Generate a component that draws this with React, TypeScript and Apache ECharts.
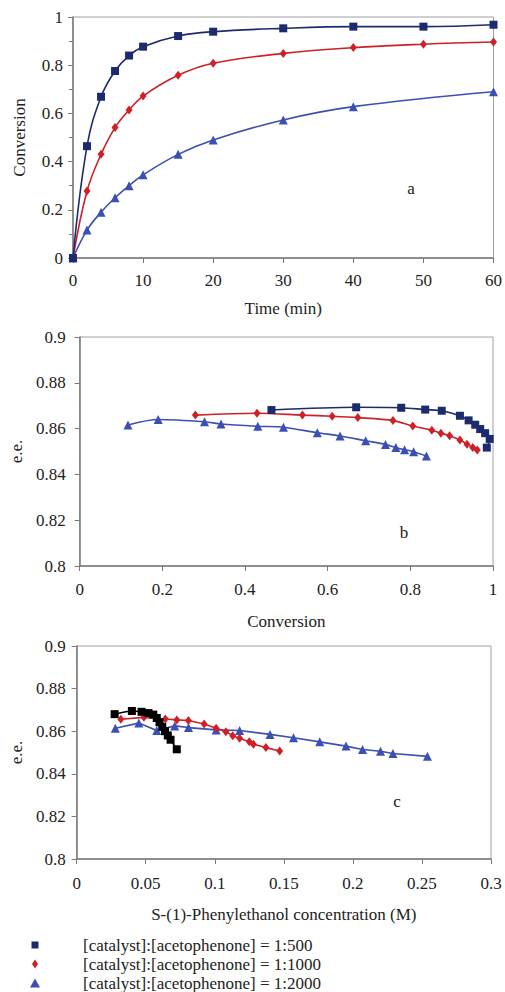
import React, { useEffect, useRef } from "react";
import * as echarts from "echarts";

// Panel a: conversion vs time
const timeMin = [0, 2, 4, 6, 8, 10, 15, 20, 30, 40, 50, 60];
const conv500 = [0, 0.464, 0.669, 0.776, 0.84, 0.877, 0.921, 0.939, 0.953, 0.96, 0.96, 0.968];
const conv1000 = [0, 0.278, 0.43, 0.541, 0.614, 0.672, 0.758, 0.808, 0.849, 0.873, 0.887, 0.896];
const time2000 = [0, 2, 4, 6, 8, 10, 15, 20, 30, 40, 60];
const conv2000 = [0, 0.116, 0.19, 0.25, 0.3, 0.345, 0.43, 0.49, 0.573, 0.628, 0.69];

// Panel b: e.e. vs conversion
const bConv500 = [0.464, 0.669, 0.778, 0.836, 0.876, 0.92, 0.941, 0.957, 0.969, 0.981, 0.992, 0.985];
const bEe500 = [0.8681, 0.8693, 0.8691, 0.8683, 0.8678, 0.8656, 0.8636, 0.8617, 0.8598, 0.858, 0.8555, 0.8517];
const bConv1000 = [0.28, 0.429, 0.539, 0.611, 0.673, 0.758, 0.806, 0.852, 0.874, 0.895, 0.92, 0.937, 0.951, 0.962];
const bEe1000 = [0.8659, 0.8667, 0.8659, 0.8654, 0.8648, 0.8635, 0.8611, 0.8593, 0.858, 0.8569, 0.855, 0.8532, 0.8517, 0.8507];
const bConv2000 = [0.117, 0.19, 0.302, 0.342, 0.431, 0.493, 0.575, 0.63, 0.692, 0.74, 0.765, 0.786, 0.808, 0.839];
const bEe2000 = [0.8616, 0.864, 0.863, 0.862, 0.861, 0.8606, 0.8582, 0.8568, 0.8547, 0.8531, 0.8517, 0.8508, 0.8499, 0.848];

// Panel c: e.e. vs S-(1)-phenylethanol concentration
const cConc500 = [0.0275, 0.04, 0.047, 0.052, 0.0555, 0.058, 0.06, 0.062, 0.064, 0.066, 0.068, 0.0725];
const cEe500 = [0.868, 0.8695, 0.8691, 0.8685, 0.8678, 0.8662, 0.8642, 0.862, 0.86, 0.858, 0.856, 0.8515];
const cConc1000 = [0.032, 0.0487, 0.0642, 0.0725, 0.0809, 0.0923, 0.101, 0.108, 0.113, 0.118, 0.125, 0.128, 0.137, 0.147];
const cEe1000 = [0.8656, 0.8665, 0.8657, 0.8653, 0.865, 0.8634, 0.8614, 0.8598, 0.8579, 0.8567, 0.8551, 0.8539, 0.8523, 0.8507];
const cConc2000 = [0.028, 0.045, 0.058, 0.071, 0.081, 0.101, 0.118, 0.14, 0.157, 0.176, 0.195, 0.207, 0.22, 0.229, 0.254];
const cEe2000 = [0.8614, 0.8638, 0.8603, 0.8625, 0.8617, 0.8606, 0.8603, 0.8585, 0.8569, 0.855, 0.853, 0.8514, 0.8506, 0.8495, 0.8482];

const seriesNames = [
  "[catalyst]:[acetophenone] = 1:500",
  "[catalyst]:[acetophenone] = 1:1000",
  "[catalyst]:[acetophenone] = 1:2000",
];

const NAVY = "#1c2b6e";
const RED = "#cf2027";
const BLUE = "#3c4fb4";
const BLACK = "#000000";
const FONT = "'Liberation Serif', 'Times New Roman', serif";
const TXT = "#222";
const AXIS = "#7a7a7a";

const zip = (xs: number[], ys: number[]) => xs.map((x, i) => [x, ys[i]]);

export default function App() {
  const ref = useRef<HTMLDivElement>(null);
  useEffect(() => {
    if (!ref.current) return;
    const chart = echarts.init(ref.current, null, { renderer: "svg" });

    const axisCommon = {
      axisLine: { show: true, lineStyle: { color: AXIS, width: 1.5 } },
      axisTick: { show: true, inside: false, length: 5, lineStyle: { color: AXIS } },
      splitLine: { show: false },
      axisLabel: { color: TXT, fontFamily: FONT, fontSize: 17 },
      nameTextStyle: { color: TXT, fontFamily: FONT, fontSize: 17 },
    };

    const mk = (
      name: string,
      data: number[][],
      color: string,
      symbol: string,
      size: number | number[],
      xi: number,
      smooth: number
    ) => ({
      type: "line",
      name,
      data,
      xAxisIndex: xi,
      yAxisIndex: xi,
      symbol,
      symbolSize: size,
      smooth,
      showSymbol: true,
      lineStyle: { color, width: 1.6 },
      itemStyle: { color },
      emphasis: { disabled: true },
      z: 3,
    });

    const option: any = {
      animation: false,
      backgroundColor: "#ffffff",
      grid: [
        { left: 73, top: 17, width: 426, height: 241, show: true, borderColor: "#a0a0a0", borderWidth: 1 },
        { left: 78, top: 337, width: 415, height: 229, show: true, borderColor: "#a0a0a0", borderWidth: 1 },
        { left: 72, top: 646, width: 419, height: 213, show: true, borderColor: "#a0a0a0", borderWidth: 1 },
      ],
      xAxis: [
        {
          ...axisCommon,
          type: "value",
          gridIndex: 0,
          min: 0,
          max: 60,
          interval: 10,
          name: "Time (min)",
          nameLocation: "middle",
          nameGap: 42,
          axisLabel: { ...axisCommon.axisLabel, margin: 14 },
        },
        {
          ...axisCommon,
          type: "value",
          gridIndex: 1,
          min: 0,
          max: 1,
          interval: 0.2,
          name: "Conversion",
          nameLocation: "middle",
          nameGap: 47,
          axisLabel: { ...axisCommon.axisLabel, margin: 15 },
        },
        {
          ...axisCommon,
          type: "value",
          gridIndex: 2,
          min: 0,
          max: 0.3,
          interval: 0.05,
          name: "S-(1)-Phenylethanol concentration (M)",
          nameLocation: "middle",
          nameGap: 47,
          axisLabel: { ...axisCommon.axisLabel, margin: 16 },
        },
      ],
      yAxis: [
        {
          ...axisCommon,
          type: "value",
          gridIndex: 0,
          min: 0,
          max: 1,
          interval: 0.2,
          name: "Conversion",
          nameLocation: "middle",
          nameGap: 45,
          minorTick: { show: true, splitNumber: 2, length: 4, lineStyle: { color: AXIS } },
          axisLabel: { ...axisCommon.axisLabel, margin: 10 },
        },
        {
          ...axisCommon,
          type: "value",
          gridIndex: 1,
          min: 0.8,
          max: 0.9,
          interval: 0.02,
          name: "e.e.",
          nameLocation: "middle",
          nameGap: 52,
          axisLabel: { ...axisCommon.axisLabel, margin: 14 },
        },
        {
          ...axisCommon,
          type: "value",
          gridIndex: 2,
          min: 0.8,
          max: 0.9,
          interval: 0.02,
          name: "e.e.",
          nameLocation: "middle",
          nameGap: 46,
          axisLabel: { ...axisCommon.axisLabel, margin: 11 },
        },
      ],
      legend: [
        {
          data: [{ name: seriesNames[0], icon: "rect" }],
          left: 31.5,
          top: 936.5,
          padding: 0,
          itemWidth: 7,
          itemHeight: 7,
          selectedMode: false,
          textStyle: { color: TXT, fontFamily: FONT, fontSize: 17, lineHeight: 17, padding: [0, 0, 0, 39.5] },
        },
        {
          data: [{ name: seriesNames[1], icon: "diamond" }],
          left: 32,
          top: 955.5,
          padding: 0,
          itemWidth: 6,
          itemHeight: 9,
          selectedMode: false,
          textStyle: { color: TXT, fontFamily: FONT, fontSize: 17, lineHeight: 17, padding: [0, 0, 0, 40] },
        },
        {
          data: [{ name: seriesNames[2], icon: "triangle" }],
          left: 30,
          top: 974.5,
          padding: 0,
          itemWidth: 10,
          itemHeight: 9,
          selectedMode: false,
          textStyle: { color: TXT, fontFamily: FONT, fontSize: 17, lineHeight: 17, padding: [0, 0, 0, 38] },
        },
      ],
      graphic: [
        { type: "text", x: 411, y: 188, style: { text: "a", fill: TXT, font: `17px ${FONT}`, textAlign: "center", textVerticalAlign: "middle" } },
        { type: "text", x: 404, y: 532, style: { text: "b", fill: TXT, font: `17px ${FONT}`, textAlign: "center", textVerticalAlign: "middle" } },
        { type: "text", x: 397, y: 801, style: { text: "c", fill: TXT, font: `17px ${FONT}`, textAlign: "center", textVerticalAlign: "middle" } },
      ],
      series: [
        mk(seriesNames[2], zip(time2000, conv2000), BLUE, "triangle", 9, 0, 0.4),
        mk(seriesNames[1], zip(timeMin, conv1000), RED, "diamond", [7, 9], 0, 0.4),
        mk(seriesNames[0], zip(timeMin, conv500), NAVY, "rect", 8, 0, 0.4),
        mk(seriesNames[2], zip(bConv2000, bEe2000), BLUE, "triangle", 9, 1, 0.3),
        mk(seriesNames[1], zip(bConv1000, bEe1000), RED, "diamond", [7, 9], 1, 0.3),
        mk(seriesNames[0], zip(bConv500, bEe500), NAVY, "rect", 8, 1, 0.3),
        mk(seriesNames[2], zip(cConc2000, cEe2000), BLUE, "triangle", 9, 2, 0),
        mk(seriesNames[1], zip(cConc1000, cEe1000), RED, "diamond", [7, 9], 2, 0),
        { ...mk(seriesNames[0] + " ", zip(cConc500, cEe500), BLACK, "rect", 8, 2, 0.2) },
      ],
    };
    // order legend colors: make navy first-found by name
    chart.setOption(option);
    return () => chart.dispose();
  }, []);
  return (
    <div
      ref={ref}
      style={{ position: "fixed", left: 0, top: 0, width: 505, height: 992, background: "#fff" }}
    />
  );
}
